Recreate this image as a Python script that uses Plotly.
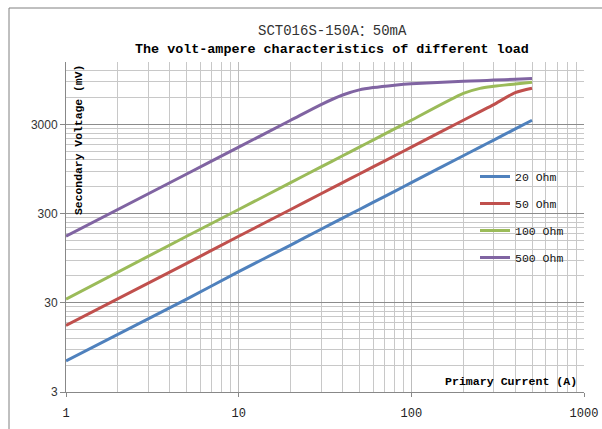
import plotly.graph_objects as go

# ---- data ----
current_a = [1, 5, 10, 20, 30, 40, 50, 60, 80, 100, 200, 250, 300, 400, 500]
v_20ohm = [6.7, 33, 67, 133, 200, 267, 333, 400, 533, 667, 1333, 1667, 2000, 2667, 3333]
v_50ohm = [16.7, 83, 167, 333, 500, 667, 833, 1000, 1333, 1667, 3333, 4167, 5000, 6800, 7600]
v_100ohm = [33, 167, 333, 667, 1000, 1333, 1667, 2000, 2667, 3333, 6667, 7600, 8000, 8500, 8900]
v_500ohm = [167, 833, 1667, 3333, 5000, 6400, 7300, 7750, 8250, 8550, 9100, 9250, 9400, 9600, 9800]

series_names = ["20 Ohm", "50 Ohm", "100 Ohm", "500 Ohm"]
series_values = [v_20ohm, v_50ohm, v_100ohm, v_500ohm]
series_colors = ["#4F81BD", "#C0504D", "#9BBB59", "#8064A2"]

x_major = [1, 10, 100, 1000]
x_major_labels = ["1", "10", "100", "1000"]
y_major = [3, 30, 300, 3000]
y_major_labels = ["3", "30", "300", "3000"]

x_minor = [k * 10 ** n for n in range(3) for k in range(2, 10)]
y_minor = [3 * k * 10 ** n for n in range(4) for k in range(2, 10) if 3 * k * 10 ** n <= 15000]

title_line1 = "SCT016S-150A\uff1a50mA"
title_line2 = "The volt-ampere characteristics of different load"
x_title = "Primary Current (A)"
y_title = "Secondary Voltage (mV)"

MONO = "Liberation Mono, Noto Sans CJK SC, monospace"

fig = go.Figure()
for name, vals, col in zip(series_names, series_values, series_colors):
    fig.add_trace(go.Scatter(
        x=current_a, y=vals, name=name, mode="lines",
        line=dict(color=col, width=3, shape="spline", smoothing=0.7),
        legendgroup=name,
    ))

L, R, T, B = 66, 18, 62, 37
W, H = 602, 429
pw, ph = W - L - R, H - T - B

def px(xp):
    return (xp - L) / pw

def py(yp):
    return (H - B - yp) / ph

fig.update_layout(
    width=W, height=H,
    margin=dict(l=L, r=R, t=T, b=B, pad=0, autoexpand=False),
    paper_bgcolor="white", plot_bgcolor="white",
    showlegend=True,
    legend=dict(
        x=px(475), y=py(162), xanchor="left", yanchor="top",
        font=dict(family=MONO, size=11.5, color="#111"),
        bgcolor="rgba(0,0,0,0)", tracegroupgap=8,
        itemwidth=30,
    ),
    xaxis=dict(
        type="log", range=[0, 3], automargin=False,
        tickmode="array", tickvals=x_major, ticktext=x_major_labels,
        tickfont=dict(family=MONO, size=12, color="#222"),
        ticks="outside", ticklen=4, tickcolor="#888",
        showgrid=True, gridcolor="#bdbdbd", gridwidth=1,
        showline=True, linecolor="#888", linewidth=1, mirror=False,
        ticklabelstandoff=6,
        minor=dict(tickmode="array", tickvals=x_minor, showgrid=True,
                   gridcolor="#c8c8c8", gridwidth=1, ticks=""),
        zeroline=False,
    ),
    yaxis=dict(
        type="log", range=[0.47712125472, 4.17609125906], automargin=False,
        tickmode="array", tickvals=y_major, ticktext=y_major_labels,
        tickfont=dict(family="Liberation Sans, Arial, sans-serif", size=12, color="#333"),
        ticks="outside", ticklen=5, tickcolor="#888",
        showgrid=True, gridcolor="#8c8c8c", gridwidth=1,
        showline=True, linecolor="#888", linewidth=1,
        minor=dict(tickmode="array", tickvals=y_minor, showgrid=True,
                   gridcolor="#c8c8c8", gridwidth=1, ticks=""),
        zeroline=False,
    ),
    annotations=[
        dict(text=title_line1, xref="paper", yref="paper", x=px(332), y=py(31),
             xanchor="center", yanchor="middle",
             showarrow=False, font=dict(family=MONO, size=14, color="#333")),
        dict(text="<b>" + title_line2 + "</b>", xref="paper", yref="paper", x=px(332), y=py(49),
             xanchor="center", yanchor="middle",
             showarrow=False, font=dict(family=MONO, size=13.4, color="#000")),
        dict(text="<b>" + y_title + "</b>", xref="paper", yref="paper", x=px(79), y=py(140),
             xanchor="center", yanchor="middle",
             textangle=-90, showarrow=False, font=dict(family=MONO, size=11.4, color="#000")),
        dict(text="<b>" + x_title + "</b>", xref="paper", yref="paper", x=px(579), y=py(381),
             xanchor="right", yanchor="middle",
             showarrow=False, font=dict(family=MONO, size=11.6, color="#000")),
    ],
    shapes=[
        dict(type="line", xref="paper", yref="paper", x0=px(9), x1=px(602), y0=py(8), y1=py(8),
             line=dict(color="#808080", width=1)),
        dict(type="line", xref="paper", yref="paper", x0=px(9), x1=px(9), y0=py(8), y1=py(429),
             line=dict(color="#808080", width=1)),
    ],
)

fig.write_html(
    "out.html",
    config={"displayModeBar": False},
    post_script="document.body.style.margin='0';document.body.style.overflow='hidden';",
)
